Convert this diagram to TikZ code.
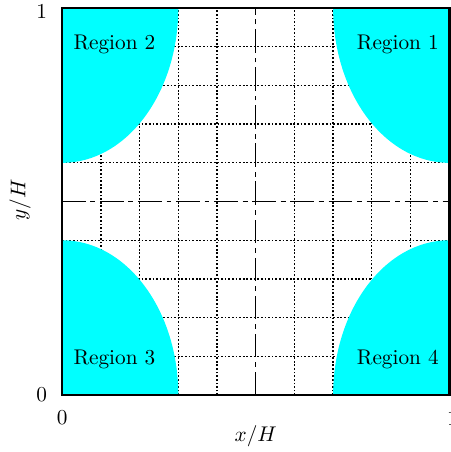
\documentclass[tikz,border=0pt]{standalone}
\usepackage{amsmath,amssymb}
\usepackage{xcolor}
\usepackage{tikz}
\definecolor{regioncyan}{RGB}{0,255,255}

\begin{document}
\begin{tikzpicture}[x=6.4cm,y=6.4cm,
    region/.style={fill=regioncyan},
    gridline/.style={dash pattern=on 0.8pt off 0.9pt,line width=0.6pt},
    symline/.style={dash pattern=on 11pt off 2.3pt on 2.3pt off 2.3pt,line width=0.6pt}]
    \useasboundingbox (-0.1606,-0.147) rectangle (1.002,1.0207);
    \foreach \k in {1,2,3,4,6,7,8,9} {
        \draw[gridline] (\k/10,0) -- (\k/10,1);
        \draw[gridline] (0,\k/10) -- (1,\k/10);
    }
    \draw[symline] (0.5,0) -- (0.5,1);
    \draw[symline] (0,0.5) -- (1,0.5);
    \fill[region] (0,1) -- (0.3,1) arc[start angle=0,end angle=-90,x radius=0.3,y radius=0.4] -- cycle;
    \fill[region] (1,1) -- (1,0.6) arc[start angle=270,end angle=180,x radius=0.3,y radius=0.4] -- cycle;
    \fill[region] (0,0) -- (0,0.4) arc[start angle=90,end angle=0,x radius=0.3,y radius=0.4] -- cycle;
    \fill[region] (1,0) -- (0.7,0) arc[start angle=180,end angle=90,x radius=0.3,y radius=0.4] -- cycle;
    \draw[line width=1.2pt] (0,0) rectangle (1,1);
    \node (r1) at (0.867,0.907) {Region 1};
    \node (r2) at (0.135,0.907) {Region 2};
    \node (r3) at (0.135,0.093) {Region 3};
    \node (r4) at (0.867,0.093) {Region 4};
    \node (y1) at (-0.053,0.991) {1};
    \node (y0) at (-0.053,0) {0};
    \node (x0) at (0,-0.059) {0};
    \node (x1) at (1.008,-0.059) {1};
    \node (xl) at (0.5,-0.106) {\(x/H\)};
    \node[rotate=90] (yl) at (-0.109,0.504) {\(y/H\)};
\end{tikzpicture}
\end{document}
